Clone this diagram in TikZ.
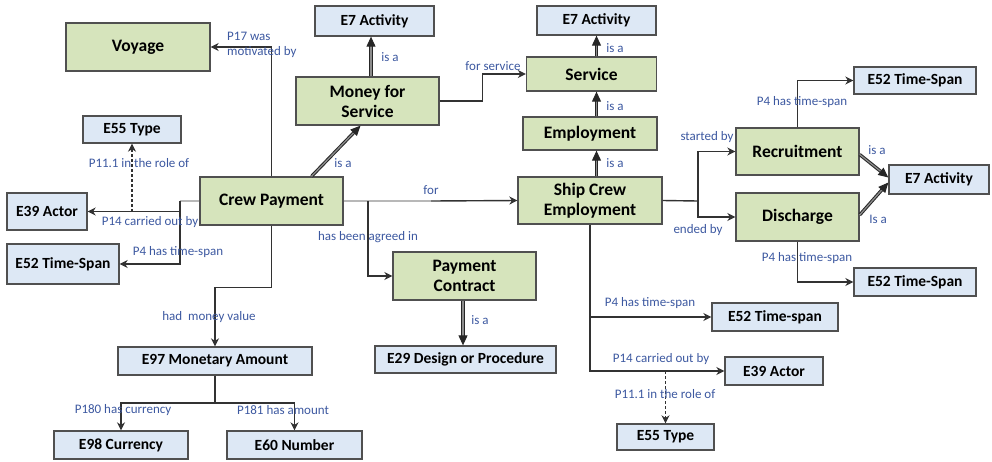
\documentclass[tikz,border=0pt]{standalone}
\usepackage{fontspec}
\setmainfont{Carlito}
\usetikzlibrary{arrows.meta,calc}
\definecolor{greenbox}{RGB}{214,228,188}
\definecolor{bluebox}{RGB}{221,232,245}
\definecolor{boxline}{RGB}{80,80,80}
\definecolor{linkline}{RGB}{50,50,50}
\definecolor{lbl}{RGB}{60,88,160}
\begin{document}
\begin{tikzpicture}[x=1pt,y=-1pt,
  box/.style={draw=boxline,line width=1.3pt,inner sep=0pt,align=center,text=black},
  classbox/.style={box,fill=greenbox,font=\fontsize{17.5}{20}\selectfont\bfseries},
  typebox/.style={box,fill=bluebox,font=\fontsize{15.5}{18}\selectfont\bfseries},
  link/.style={draw=linkline,line width=1.4pt,-{Stealth[length=8pt,width=8pt,inset=2.5pt]}},
  faint/.style={draw=black!28,line width=1.4pt},
  plain/.style={draw=linkline,line width=1.4pt},
  roleof/.style={link,dashed,dash pattern=on 3pt off 2pt},
  isa/.style={draw=black!85,double=black!45,double distance=1.3pt,line width=1pt,
    -{Triangle[length=10pt,width=9pt]}},
  lab/.style={text=lbl,font=\fontsize{13}{15}\selectfont,inner sep=0pt}]
\useasboundingbox (0,0) rectangle (992,461);

% classes
\node[classbox,minimum width=144,minimum height=48] (voyage) at (138,47) {Voyage};
\node[classbox,minimum width=143,minimum height=48] (crew) at (271.5,201) {Crew Payment};
\node[classbox,minimum width=143,minimum height=48] (money) at (367.5,101) {Money for\\Service};
\node[classbox,minimum width=130,minimum height=34] (service) at (591.5,74) {Service};
\node[classbox,minimum width=134,minimum height=33] (employ) at (590,133.5) {Employment};
\node[classbox,minimum width=144,minimum height=47] (ship) at (590,200.5) {Ship Crew\\Employment};
\node[classbox,minimum width=123,minimum height=47] (recruit) at (797.5,151.5) {Recruitment};
\node[classbox,minimum width=123,minimum height=48] (discharge) at (797.5,217) {Discharge};
\node[classbox,minimum width=143,minimum height=48] (contract) at (464.5,276) {Payment\\Contract};

% types
\node[typebox,minimum width=98,minimum height=27] (typeA) at (132,129.5) {E55 Type};
\node[typebox,minimum width=80,minimum height=37] (actorA) at (47,211.5) {E39 Actor};
\node[typebox,minimum width=112,minimum height=40] (spanA) at (63,264) {E52 Time-Span};
\node[typebox,minimum width=119,minimum height=30] (actA) at (374.5,21) {E7 Activity};
\node[typebox,minimum width=119,minimum height=29] (actB) at (596.5,20.5) {E7 Activity};
\node[typebox,minimum width=100,minimum height=29] (actC) at (939,179.5) {E7 Activity};
\node[typebox,minimum width=122,minimum height=27] (spanB) at (915,80.5) {E52 Time-Span};
\node[typebox,minimum width=122,minimum height=28] (spanC) at (915,282) {E52 Time-Span};
\node[typebox,minimum width=181,minimum height=27] (design) at (465.5,359.5) {E29 Design or Procedure};
\node[typebox,minimum width=126,minimum height=28] (spanD) at (775,317) {E52 Time-span};
\node[typebox,minimum width=98,minimum height=28] (actorB) at (774,371) {E39 Actor};
\node[typebox,minimum width=97,minimum height=26] (typeB) at (665.5,437) {E55 Type};
\node[typebox,minimum width=194,minimum height=28] (amount) at (215,361) {E97 Monetary Amount};
\node[typebox,minimum width=134,minimum height=28] (currency) at (121,445) {E98 Currency};
\node[typebox,minimum width=135,minimum height=28] (number) at (294.5,445) {E60 Number};

% junction points
\coordinate (lj) at (180,201);
\coordinate (fj) at (431,201);
\coordinate (aj) at (368,201);
\coordinate (rj) at (698,201);
\coordinate (mj) at (215,403);

% Crew Payment links
\draw[link] (crew.north) |- (voyage.east);
\draw[faint] (crew.west) -- (lj);
\draw[plain] (lj) -- (lj |- actorA.east);
\draw[link] (lj |- actorA.east) |- (spanA.east);
\draw[link] (lj |- actorA.east) -- (actorA.east);
\draw[roleof] (typeA.south |- actorA.east) -- (typeA.south);
\draw[isa] ($(crew.north)+(40,0)$) -- ($(money.south)+(-7,0)$);
\draw[isa] (money.north -| 371,0) -- (actA.south -| 371,0);
\draw[link] (money.east) -- ++(43,0) |- (service.west);
\draw[faint] (crew.east) -- (fj);
\draw[link] (fj) -- (ship.west);
\draw[link] (aj) |- (contract.west);
\draw[isa] (contract.south -| 463,0) -- (design.north -| 463,0);
\draw[link] (crew.south) -- ++(0,62) -| (amount.north);
\draw[plain] (amount.south) -- (mj);
\draw[link] (mj) -| (currency.north);
\draw[link] (mj) -| (number.north);

% Ship Crew Employment links
\draw[isa] (ship.north -| actB.south) -- (employ.south -| actB.south);
\draw[isa] (employ.north -| actB.south) -- (service.south -| actB.south);
\draw[isa] (service.north -| actB.south) -- (actB.south);
\draw[plain] (ship.east) -- (rj);
\draw[link] (rj) |- (recruit.west);
\draw[link] (rj) |- (discharge.west);
\draw[link] (recruit.north) |- (spanB.west);
\draw[link] (discharge.south) |- (spanC.west);
\draw[isa] ($(recruit.east)+(0,3)$) -- ($(actC.west)+(0,-2)$);
\draw[isa] ($(discharge.east)+(0,-2)$) -- ($(actC.west)+(0,3)$);
\draw[link] (ship.south) |- (actorB.west);
\draw[link] (ship.south |- spanD.west) -- (spanD.west);
\draw[roleof] (typeB.north |- actorB.west) -- (typeB.north);

% labels
\node[lab,anchor=west,align=left] at (227,45) {P17 was\\motivated by};
\node[lab] at (139,163) {P11.1 in the role of};
\node[lab] at (150,222) {P14 carried out by};
\node[lab] at (178,252) {P4 has time-span};
\node[lab] at (343,163) {is a};
\node[lab] at (390,57) {is a};
\node[lab] at (493,66) {for service};
\node[lab] at (615,48) {is a};
\node[lab] at (615,106) {is a};
\node[lab] at (615,163) {is a};
\node[lab] at (431,190) {for};
\node[lab] at (368,237) {has been agreed in};
\node[lab] at (480,320) {is a};
\node[lab] at (209,317) {had\ \ money value};
\node[lab] at (123,410) {P180 has currency};
\node[lab] at (283,410) {P181 has amount};
\node[lab] at (707,137) {started by};
\node[lab] at (698,230) {ended by};
\node[lab] at (802,102) {P4 has time-span};
\node[lab] at (807,258) {P4 has time-span};
\node[lab] at (877,150) {is a};
\node[lab] at (878,219) {Is a};
\node[lab] at (650,303) {P4 has time-span};
\node[lab] at (661,359) {P14 carried out by};
\node[lab] at (665,394) {P11.1 in the role of};
\end{tikzpicture}
\end{document}
